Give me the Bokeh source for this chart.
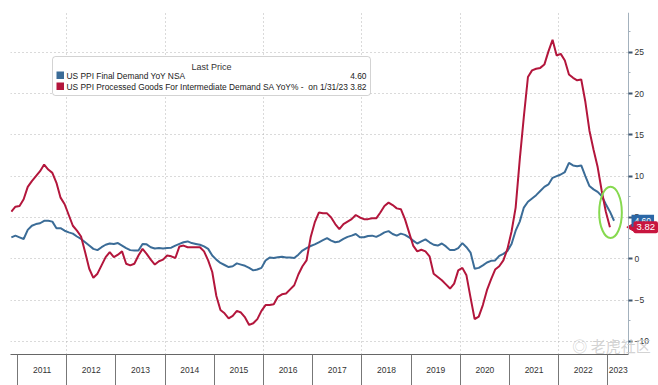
import math
import pandas as pd
from bokeh.plotting import figure
from bokeh.models import Range1d, FixedTicker, BoxAnnotation, Label
from bokeh.embed import file_html
from bokeh.resources import INLINE

# ---------------- data (monthly, YoY %) ----------------
start_month = "2010-11"

final_demand = [
    2.6, 2.8,
    2.6, 2.4, 3.5, 4.0, 4.2, 4.3, 4.6, 4.6, 4.5, 3.7, 3.7, 3.4,          # 2011
    3.2, 3.05, 2.7, 2.4, 2.0, 1.6, 1.2, 1.05, 1.4, 1.7, 1.85, 1.8,        # 2012
    1.9, 1.6, 1.3, 1.05, 1.0, 1.0, 1.8, 1.75, 1.4, 1.25, 1.3, 1.25,      # 2013
    1.3, 1.35, 1.6, 1.8, 2.0, 2.1, 1.9, 1.8, 1.7, 1.5, 1.2, 0.4,          # 2014
    -0.1, -0.5, -0.75, -1.0, -0.9, -0.55, -0.7, -0.85, -1.1, -1.4, -1.3, -1.1,  # 2015
    -0.2, 0.15, 0.1, 0.2, 0.25, 0.15, 0.15, 0.1, 0.5, 1.0, 1.3, 1.55,    # 2016
    1.75, 2.0, 2.25, 2.5, 2.2, 2.0, 2.1, 2.4, 2.65, 2.8, 3.0, 2.6,       # 2017
    2.6, 2.75, 2.8, 2.65, 2.9, 3.2, 3.35, 3.0, 2.8, 3.05, 2.9, 2.6,      # 2018
    2.2, 1.85, 2.1, 2.35, 2.0, 1.7, 1.6, 1.85, 1.5, 1.05, 1.05, 1.3,     # 2019
    1.9, 1.4, 0.75, -1.2, -1.1, -0.8, -0.45, -0.25, -0.2, 0.35, 0.6, 0.95,  # 2020
    1.8, 3.4, 4.5, 6.2, 6.9, 7.3, 7.7, 8.2, 8.7, 9.0, 9.8, 10.0,         # 2021
    10.2, 10.5, 11.6, 11.3, 11.2, 11.3, 10.0, 8.8, 8.4, 8.1, 7.6, 6.6,   # 2022
    5.7, 4.6,                                                            # 2023
]

processed_goods = [
    5.7, 6.3,
    6.4, 7.2, 8.7, 9.4, 10.0, 10.6, 11.4, 10.8, 10.4, 9.2, 7.4, 6.6,     # 2011
    5.3, 4.0, 3.4, 2.7, 0.8, -1.2, -2.3, -1.8, -0.8, 0.2, 0.8, 0.2,      # 2012
    0.5, 0.9, -0.6, -0.8, -0.6, 0.4, 1.2, 0.6, -0.1, -0.7, -0.3, -0.1,   # 2013
    0.4, 0.3, 0.1, 1.5, 1.6, 1.4, 1.4, 1.4, 1.4, 0.9, -0.2, -1.6,        # 2014
    -4.5, -6.2, -6.6, -7.2, -6.9, -6.3, -6.5, -7.1, -8.0, -7.8, -7.3, -6.3,  # 2015
    -5.6, -5.6, -5.5, -4.6, -4.3, -4.2, -3.7, -3.2, -1.9, -0.9, -0.2, 2.6,   # 2016
    4.4, 5.6, 5.5, 5.5, 5.0, 4.2, 3.6, 4.2, 4.5, 4.8, 5.3, 5.0,          # 2017
    4.8, 4.8, 4.9, 4.9, 5.6, 6.4, 6.8, 6.5, 6.1, 6.0, 4.8, 3.2,          # 2018
    1.6, 0.9, 1.1, 0.9, 0.3, -1.8, -2.2, -2.6, -3.1, -3.6, -3.0, -1.4,   # 2019
    -1.1, -2.0, -4.7, -7.3, -7.0, -5.6, -3.8, -2.5, -1.3, -0.9, -0.2, 1.2,   # 2020
    3.3, 6.2, 12.0, 17.2, 22.0, 22.8, 23.0, 23.1, 23.5, 25.1, 26.5, 24.6,    # 2021
    24.8, 24.0, 22.3, 21.9, 21.6, 21.7, 19.0, 15.5, 13.2, 11.1, 8.2, 5.7,    # 2022
    3.82,                                                                # 2023
]

series_names = ["US PPI Final Demand YoY NSA",
                "US PPI Processed Goods For Intermediate Demand SA YoY% -"]
last_date_text = "on 1/31/23"
years = list(range(2011, 2024))
year_labels = [str(y) for y in years]
y_ticks = [-10, -5, 0, 5, 10, 15, 20, 25]

BLUE = "#3b6c97"
RED = "#b3163c"
TAG_BLUE = "#2b67a6"
TAG_RED = "#c8153f"
FONT = "Liberation Sans"


def month_x(n):
    per = pd.period_range(start_month, periods=n, freq="M")
    return [p.year + (p.month - 1) / 12 + 1 / 24 for p in per]


x_blue = month_x(len(final_demand))
x_red = month_x(len(processed_goods))


# ---- page-pixel helpers (figure sits at the page origin) ----
def px_x(px):
    return 2011 + (px - 17) / 49.2


def px_y(py):
    return (258.3 - py) / 8.264


X0, X1, XE = px_x(10), px_x(628), px_x(658)   # data start, axis position, frame end
Y0, Y1 = px_y(354), px_y(12)

p = figure(frame_width=648, frame_height=342, output_backend="svg", toolbar_location=None,
           x_range=Range1d(X0, XE), y_range=Range1d(Y0, Y1),
           y_axis_location="right", min_border_left=10, min_border_top=12,
           min_border_right=0, min_border_bottom=31)
p.outline_line_color = None
p.background_fill_color = "white"
p.border_fill_color = "white"

# ---- x axis: year bands ----
label_pos = [y + 0.5 for y in years[:-1]] + [(years[-1] + X1) / 2]
xa = p.xaxis[0]
xa.ticker = FixedTicker(ticks=label_pos, minor_ticks=[float(y) for y in years])
xa.major_label_overrides = {pos: lab for pos, lab in zip(label_pos, year_labels)}
xa.bounds = (X0, X1)
xa.major_tick_out = 0
xa.major_tick_in = 0
xa.minor_tick_in = 0
xa.minor_tick_out = 31
xa.minor_tick_line_color = "#777777"
xa.axis_line_color = "#666666"
xa.major_label_standoff = -19
xa.major_label_text_font = FONT
xa.major_label_text_font_size = "8.5px"
xa.major_label_text_color = "#333333"

# ---- y axis (right side, drawn at the end of the data window) ----
ya = p.yaxis[0]
ya.fixed_location = X1
ya.ticker = FixedTicker(ticks=y_ticks,
                        minor_ticks=[t + 2.5 for t in y_ticks[:-1]] + [27.5])
ya.axis_line_color = "#a3b1bd"
ya.major_tick_out = 4
ya.major_tick_in = 0
ya.major_tick_line_color = "#3d5670"
ya.major_tick_line_width = 2
ya.minor_tick_out = 2
ya.minor_tick_in = 0
ya.minor_tick_line_color = "#a3b1bd"
ya.major_label_standoff = 2
ya.major_label_text_font = FONT
ya.major_label_text_font_size = "8.5px"
ya.major_label_text_color = "#333333"

# ---- grids ----
p.xgrid.ticker = FixedTicker(ticks=[2012, 2014, 2016, 2018, 2020, 2022])
for g in (p.xgrid[0], p.ygrid[0]):
    g.grid_line_color = "#b5b5b5"
    g.grid_line_dash = "1 3"
    g.grid_line_width = 1
# blank the strip right of the value axis
p.add_layout(BoxAnnotation(left=X1, right=XE, fill_color="white", fill_alpha=1,
                           line_color=None, level="underlay"))

# ---- series ----
p.line(x_blue, final_demand, line_color=BLUE, line_width=2)
p.line(x_red, processed_goods, line_color=RED, line_width=2)

# ---- legend box ----
p.add_layout(BoxAnnotation(left=px_x(52), right=px_x(370), top=px_y(56), bottom=px_y(95),
                           fill_color="white", fill_alpha=1, line_color="#6d6d6d",
                           line_width=1, border_radius=3))
p.add_layout(Label(x=px_x(211), y=px_y(66), text="Last Price", text_align="center",
                   text_baseline="middle", text_font=FONT, text_font_size="9px",
                   text_color="#333333"))
for i, (name, col, val) in enumerate([(series_names[0], BLUE, final_demand[-1]),
                                      (series_names[1], RED, processed_goods[-1])]):
    yy = 75 + i * 11
    p.add_layout(BoxAnnotation(left=px_x(56), right=px_x(63.5), top=px_y(yy - 4),
                               bottom=px_y(yy + 3.5), fill_color=col, fill_alpha=1,
                               line_color=None))
    p.add_layout(Label(x=px_x(66), y=px_y(yy), text=name, text_align="left",
                       text_baseline="middle", text_font=FONT, text_font_size="8.4px",
                       text_color="#222222"))
    vtxt = f"{val:.2f}" if i == 0 else f"{last_date_text} {val:.2f}"
    p.add_layout(Label(x=px_x(366), y=px_y(yy), text=vtxt, text_align="right",
                       text_baseline="middle", text_font=FONT, text_font_size="8.4px",
                       text_color="#222222"))

# ---- last-value tags at the value axis ----
p.add_layout(Label(x=X1, y=final_demand[-1], x_offset=3, y_offset=0,
                   text=f"{final_demand[-1]:.2f}", text_align="left", text_baseline="middle",
                   text_font=FONT, text_font_size="8.5px", text_color="white",
                   background_fill_color=TAG_BLUE, padding=3))
p.scatter(x=[X1 + 3.5 / 49.2], y=[processed_goods[-1]], marker="triangle", size=9,
          angle=math.pi / 2, fill_color=TAG_RED, line_color=TAG_RED)
p.add_layout(Label(x=X1, y=processed_goods[-1], x_offset=5,
                   text=f"{processed_goods[-1]:.2f}", text_align="left", text_baseline="middle",
                   text_font=FONT, text_font_size="9.5px", text_color="white",
                   background_fill_color=TAG_RED, padding=3, border_radius=2))

# ---- highlight ellipse around the latest readings ----
cx = (x_red[-1] + x_blue[-1]) / 2 - 0.03
cy = (final_demand[-3] + processed_goods[-1]) / 2 + 0.4
p.ellipse(x=[cx], y=[cy], width=0.46, height=6.2, fill_alpha=0,
          line_color="#86d94f", line_width=2)

# ---- watermark ----
p.add_layout(Label(x=px_x(611), y=px_y(345), text="◎ 老虎社区", text_align="center",
                   text_baseline="middle", text_font="Noto Sans CJK SC",
                   text_font_size="15px", text_color="#cccccc", text_alpha=0.85))

open("out.html", "w").write(file_html(p, INLINE))
